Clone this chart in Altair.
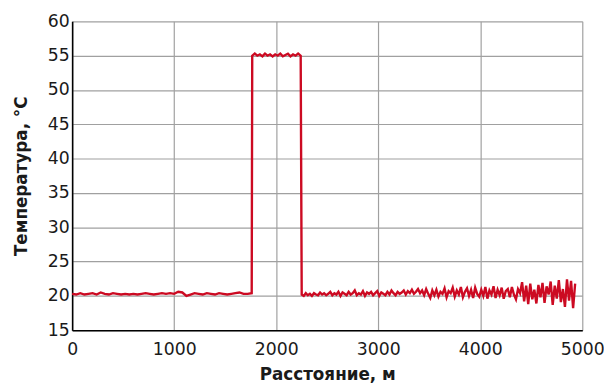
import altair as alt
import pandas as pd

# Segment before the hot section (step 40 m)
base_vals = [20.3,20.2,20.4,20.2,20.3,20.4,20.2,20.5,20.3,20.2,20.4,20.3,20.2,20.3,20.2,
             20.3,20.2,20.3,20.4,20.3,20.2,20.3,20.4,20.3,20.4,20.3,20.6,20.5,20.0,20.2,
             20.4,20.3,20.2,20.4,20.3,20.2,20.4,20.3,20.2,20.3,20.4,20.5,20.3,20.3,20.4]
base_step = 40
# Hot section (1765 .. 2240 m, step 25 m)
hot_start = 1765
hot_vals = [55.0,55.3,55.0,55.2,54.9,55.3,55.0,55.2,54.9,55.2,55.0,55.3,54.9,55.1,55.3,
            54.9,55.2,55.0,55.3,55.0]
hot_step = 25
# After the hot section (2250 .. 4930 m, step 20 m)
tail_start = 2250
tail_vals = [20.2,20.0,20.4,20.1,20.3,20.0,20.4,20.2,20.1,20.5,20.2,20.4,20.1,
             20.3,20.6,20.1,20.4,20.2,20.6,20.0,20.5,20.3,20.1,20.6,20.2,20.4,20.8,20.1,20.4,20.2,20.7,20.0,20.5,20.3,20.6,20.1,20.4,20.7,
             20.0,20.5,20.3,20.1,20.6,20.2,20.8,20.4,20.1,20.6,20.3,20.5,20.8,20.2,20.7,20.4,20.9,20.3,20.6,21.0,20.4,20.8,20.1,21.0,20.3,
             19.7,20.8,20.1,20.9,19.9,20.6,20.3,21.1,19.8,20.7,20.4,21.2,19.9,20.8,20.2,21.3,19.8,20.6,21.1,20.0,20.9,19.7,21.2,20.3,19.9,
             20.9,20.0,21.3,19.6,20.8,20.2,21.4,19.7,20.9,20.1,21.2,19.6,20.7,21.0,19.8,21.3,20.2,19.5,21.0,20.4,22.0,19.2,21.5,18.8,21.8,
             19.5,20.9,18.9,21.6,19.8,21.9,19.0,21.4,20.2,22.1,18.7,21.5,19.6,22.3,19.1,21.0,18.4,22.4,19.3,22.2,18.2,21.8]
tail_step = 20

x_ticks = [0, 1000, 2000, 3000, 4000, 5000]
y_ticks = [15, 20, 25, 30, 35, 40, 45, 50, 55, 60]

xs, ys = [], []
for i, v in enumerate(base_vals):
    xs.append(i * base_step); ys.append(v)
for i, v in enumerate(hot_vals):
    xs.append(hot_start + i * hot_step); ys.append(v)
for i, v in enumerate(tail_vals):
    xs.append(tail_start + i * tail_step); ys.append(v)

df = pd.DataFrame({"x": xs, "t": ys, "o": list(range(len(xs)))})

font = "DejaVu Sans"

chart = alt.Chart(df).mark_line(color="#cc0a22", strokeWidth=2.4, interpolate="linear").encode(
    x=alt.X("x:Q", scale=alt.Scale(domain=[0, 5000], nice=False),
            axis=alt.Axis(values=x_ticks, format="d", title="Расстояние, м",
                          labelPadding=11, titlePadding=8, titleFontSize=17)),
    y=alt.Y("t:Q", scale=alt.Scale(domain=[15, 60], nice=False, zero=False),
            axis=alt.Axis(values=y_ticks, format="d", title="Температура, °C",
                          labelPadding=3, titlePadding=17, titleFontSize=17)),
    order="o:Q",
).properties(
    width=517, height=313,
    autosize=alt.AutoSizeParams(type="none"),
    padding={"left": 65, "top": 11, "right": 22, "bottom": 57},
).configure_view(stroke=None).configure_axis(
    grid=True, gridColor="#a0a0a0", gridWidth=1.2, gridOpacity=1,
    domainColor="#000000", domainWidth=1.6, ticks=False,
    labelFont=font, labelFontSize=17.5, labelColor="#1a1a1a",
    titleFont=font, titleFontWeight="bold", titleColor="#1a1a1a",
    labelOverlap=False, labelBound=False, labelFlush=False,
)

chart.save("out.html", embed_options={"renderer": "svg", "actions": False})
